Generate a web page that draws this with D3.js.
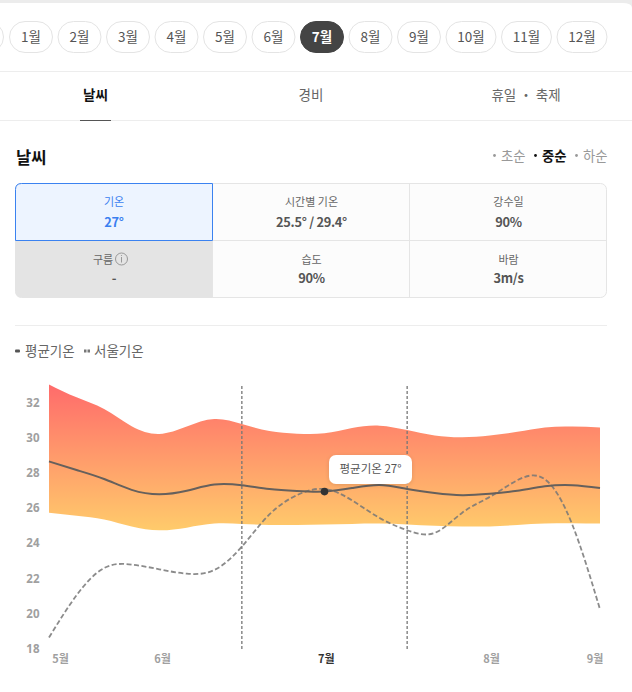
<!DOCTYPE html>
<html>
<head>
<meta charset="utf-8">
<script src="https://cdn.jsdelivr.net/npm/d3@7"></script>
<style>
html, body { margin: 0; padding: 0; background: #fff; }
svg { display: block; }
text { font-family: "Noto Sans CJK KR", "Noto Sans", sans-serif; }
</style>
</head>
<body>
<svg id="chart" width="632" height="692"></svg>
<script>
var months = ['1월', '2월', '3월', '4월', '5월', '6월', '7월', '8월', '9월', '10월', '11월', '12월'];
var activeMonth = '7월';
var tabs = ['날씨', '경비', '휴일 ・ 축제'];
var periods = ['초순', '중순', '하순'];
var activePeriod = '중순';
var cellLabels = ['기온', '시간별 기온', '강수일', '구름', '습도', '바람'];
var cellValues = ['27°', '25.5° / 29.4°', '90%', '-', '90%', '3m/s'];
var legendLabels = ['평균기온', '서울기온'];

var yTicks = [18, 20, 22, 24, 26, 28, 30, 32];
// half-month steps, 21 samples across the plot
var steps = d3.range(21);
var upper = [33.0, 32.27, 31.6, 30.62, 30.18, 30.6, 31.03, 30.75, 30.35, 30.2, 30.22, 30.52, 30.65, 30.4, 30.1, 30.0, 30.1, 30.3, 30.55, 30.6, 30.55];
var lower = [25.7, 25.53, 25.32, 24.92, 24.7, 24.85, 25.08, 25.06, 25.0, 25.0, 25.03, 25.06, 25.08, 25.03, 24.96, 24.92, 24.92, 25.0, 25.08, 25.1, 25.08];
var mean = [28.62, 28.13, 27.62, 27.0, 26.75, 26.95, 27.3, 27.26, 27.05, 26.93, 26.9, 27.1, 27.28, 27.05, 26.82, 26.7, 26.78, 26.95, 27.2, 27.26, 27.1];
var seoul = [18.6, 21.0, 22.55, 22.75, 22.48, 22.23, 22.44, 23.77, 25.6, 26.7, 27.05, 26.4, 25.4, 24.7, 24.55, 25.7, 26.6, 27.55, 27.6, 25.0, 20.2];
var monthTicks = [{label: '5월', step: 0.4}, {label: '6월', step: 4.1}, {label: '7월', step: 10.05}, {label: '8월', step: 16.05}, {label: '9월', step: 19.8}];
var guideSteps = [7, 13];
var currentStep = 10;
var currentValue = 27;

var svg = d3.select('#chart');

function drawPage() {
    svg.append('rect').attr('x', 0).attr('y', 0).attr('width', 632).attr('height', 692).attr('fill', '#fff');
    svg.append('rect').attr('x', 0).attr('y', 0).attr('width', 632).attr('height', 3).attr('fill', '#ececec');
    svg.append('path').attr('d', 'M632,3 V8 Q632,3 622,3 Z').attr('fill', '#ececec');
    [71.5, 120.5].forEach(function(y) {
        svg.append('line').attr('x1', 0).attr('x2', 632).attr('y1', y).attr('y2', y).attr('stroke', '#ededed');
    });
}

function drawMonths() {
    var x = 9;
    svg.append('rect').attr('x', -40).attr('y', 21.5).attr('width', 43.5).attr('height', 31).attr('rx', 15.5)
        .attr('fill', '#fff').attr('stroke', '#e4e4e4');
    months.forEach(function(m, i) {
        var w = m.length > 2 ? 50 : 43;
        var active = m === activeMonth;
        svg.append('rect').attr('x', x + 0.5).attr('y', 21.5).attr('width', w).attr('height', 31).attr('rx', 15.5)
            .attr('fill', active ? '#444' : '#fff').attr('stroke', active ? '#444' : '#e4e4e4');
        svg.append('text').attr('x', x + w / 2 + 0.5).attr('y', 42)
            .attr('text-anchor', 'middle').attr('font-size', 13.5)
            .attr('font-weight', active ? 700 : 400)
            .attr('fill', active ? '#fff' : '#555').text(m);
        x += w + 5.5;
    });
}

function drawTabs() {
    var centers = [95.5, 311, 526];
    tabs.forEach(function(t, i) {
        svg.append('text').attr('x', centers[i]).attr('y', 100).attr('text-anchor', 'middle')
            .attr('font-size', 13.5).attr('font-weight', i === 0 ? 700 : 400)
            .attr('fill', i === 0 ? '#111' : '#666').text(t);
    });
    svg.append('line').attr('x1', 80).attr('x2', 111).attr('y1', 120.5).attr('y2', 120.5).attr('stroke', '#555');
}

function drawHeading() {
    svg.append('text').attr('x', 16).attr('y', 164).attr('font-size', 16.5).attr('font-weight', 700)
        .attr('fill', '#111').text('날씨');
    var xs = [493, 534, 575];
    periods.forEach(function(p, i) {
        var active = p === activePeriod;
        var color = active ? '#111' : '#999';
        svg.append('circle').attr('cx', xs[i] + 1.5).attr('cy', 155.5).attr('r', 1.4).attr('fill', color);
        svg.append('text').attr('x', xs[i] + 8).attr('y', 160.5).attr('font-size', 13.3)
            .attr('font-weight', active ? 700 : 400).attr('fill', color).text(p);
    });
}

function drawTable() {
    var colX = [15, 213, 410, 607], rowY = [183, 240.5, 298];
    var g = svg.append('g');
    g.append('rect').attr('x', 15.5).attr('y', 183.5).attr('width', 591).attr('height', 114).attr('rx', 6)
        .attr('fill', '#fcfcfc').attr('stroke', '#e5e5e5');
    g.append('path').attr('d', 'M213,240.5 V297.5 H21.5 Q15.5,297.5 15.5,291.5 V240.5 Z').attr('fill', '#e4e4e4');
    g.append('line').attr('x1', 213).attr('x2', 607).attr('y1', 240.5).attr('y2', 240.5).attr('stroke', '#e5e5e5');
    g.append('line').attr('x1', 409.5).attr('x2', 409.5).attr('y1', 183).attr('y2', 298).attr('stroke', '#e5e5e5');
    g.append('line').attr('x1', 212.5).attr('x2', 212.5).attr('y1', 183).attr('y2', 298).attr('stroke', '#e5e5e5');
    g.append('path').attr('d', 'M21.5,183.5 H212.5 V240.5 H15.5 V189.5 Q15.5,183.5 21.5,183.5 Z')
        .attr('fill', '#edf4ff').attr('stroke', '#3b82f0');

    cellLabels.forEach(function(label, i) {
        var col = i % 3, row = Math.floor(i / 3);
        var cx = (colX[col] + colX[col + 1]) / 2;
        var blue = i === 0;
        var shift = label === '구름' ? -11 : 0;
        g.append('text').attr('x', cx + shift).attr('y', rowY[row] + 23).attr('text-anchor', 'middle')
            .attr('font-size', 11).attr('fill', blue ? '#3b7ff0' : '#666').text(label);
        g.append('text').attr('x', cx).attr('y', rowY[row] + (row === 0 ? 44 : 42.5)).attr('text-anchor', 'middle')
            .attr('font-size', 12.8).attr('font-weight', 700).attr('letter-spacing', -0.3)
            .attr('fill', blue ? '#3b7ff0' : '#555')
            .text(cellValues[i]);
        if (label === '구름') {
            g.append('circle').attr('cx', cx + 7.5).attr('cy', rowY[row] + 18.5).attr('r', 6)
                .attr('fill', 'none').attr('stroke', '#999');
            g.append('line').attr('x1', cx + 7.5).attr('x2', cx + 7.5).attr('y1', rowY[row] + 16.5).attr('y2', rowY[row] + 22)
                .attr('stroke', '#999');
            g.append('circle').attr('cx', cx + 7.5).attr('cy', rowY[row] + 15).attr('r', 0.6).attr('fill', '#999');
        }
    });
    svg.append('line').attr('x1', 15).attr('x2', 607).attr('y1', 325.5).attr('y2', 325.5).attr('stroke', '#ededed');
}

function drawLegend() {
    svg.append('rect').attr('x', 15).attr('y', 349.5).attr('width', 5).attr('height', 3).attr('rx', 1).attr('fill', '#555');
    svg.append('text').attr('x', 25).attr('y', 356).attr('font-size', 13.5).attr('fill', '#666').text(legendLabels[0]);
    svg.append('rect').attr('x', 84).attr('y', 349.5).attr('width', 2.5).attr('height', 3).attr('fill', '#777');
    svg.append('rect').attr('x', 87.5).attr('y', 349.5).attr('width', 2.5).attr('height', 3).attr('fill', '#777');
    svg.append('text').attr('x', 94).attr('y', 356).attr('font-size', 13.5).attr('fill', '#666').text(legendLabels[1]);
}

function drawChart() {
    var x = d3.scaleLinear().domain([0, 20]).range([49, 600]);
    var y = d3.scaleLinear().domain([18, 32]).range([648, 402]);

    var defs = svg.append('defs');
    var grad = defs.append('linearGradient').attr('id', 'band')
        .attr('gradientUnits', 'userSpaceOnUse')
        .attr('x1', 0).attr('x2', 0).attr('y1', y(33)).attr('y2', y(24.7));
    grad.append('stop').attr('offset', '0%').attr('stop-color', '#ff6b6b');
    grad.append('stop').attr('offset', '100%').attr('stop-color', '#ffcb6b');

    var area = d3.area()
        .x(function(i) { return x(i); })
        .y0(function(i) { return y(lower[i]); })
        .y1(function(i) { return y(upper[i]); })
        .curve(d3.curveNatural);
    svg.append('path').attr('d', area(steps)).attr('fill', 'url(#band)');

    var line = function(values) {
        return d3.line()
            .x(function(i) { return x(i); })
            .y(function(i) { return y(values[i]); })
            .curve(d3.curveNatural)(steps);
    };

    guideSteps.forEach(function(s) {
        svg.append('line').attr('x1', x(s)).attr('x2', x(s)).attr('y1', 386).attr('y2', 650)
            .attr('stroke', '#777').attr('stroke-width', 1.3).attr('stroke-dasharray', '3 2');
    });

    svg.append('path').attr('d', line(seoul)).attr('fill', 'none')
        .attr('stroke', '#777').attr('stroke-opacity', 0.85).attr('stroke-width', 1.8).attr('stroke-dasharray', '5 2.5');
    svg.append('path').attr('d', line(mean)).attr('fill', 'none')
        .attr('stroke', '#66605c').attr('stroke-width', 2);

    svg.append('circle').attr('cx', x(currentStep)).attr('cy', y(26.9)).attr('r', 3.8).attr('fill', '#333');

    // tooltip
    var shadow = defs.append('filter').attr('id', 'soft').attr('x', '-20%').attr('y', '-30%').attr('width', '140%').attr('height', '170%');
    shadow.append('feDropShadow').attr('dx', 0).attr('dy', 1).attr('stdDeviation', 2).attr('flood-color', '#000').attr('flood-opacity', 0.12);
    svg.append('rect').attr('x', 329).attr('y', 455).attr('width', 83).attr('height', 29).attr('rx', 7)
        .attr('fill', '#fff').attr('filter', 'url(#soft)');
    svg.append('text').attr('x', 370.5).attr('y', 473).attr('text-anchor', 'middle')
        .attr('font-size', 11.5).attr('fill', '#555').text('평균기온 ' + currentValue + '°');

    // axes
    var yAxis = d3.axisLeft(y).tickValues(yTicks).tickSize(0).tickPadding(0);
    var yG = svg.append('g').attr('transform', 'translate(39.5,0.7)').call(yAxis);
    yG.select('.domain').remove();
    yG.selectAll('text').attr('font-size', 11.5).attr('font-weight', 700).attr('fill', '#a0a0a0')
        .style('font-family', '"Noto Sans", sans-serif');

    var xAxis = d3.axisBottom(x)
        .tickValues(monthTicks.map(function(d) { return d.step; }))
        .tickFormat(function(s) { return monthTicks.find(function(d) { return d.step === s; }).label; })
        .tickSize(0).tickPadding(0);
    var xG = svg.append('g').attr('transform', 'translate(0,655)').call(xAxis);
    xG.select('.domain').remove();
    xG.selectAll('text').attr('font-size', 11).attr('font-weight', 700)
        .attr('fill', function(s) { return s === 10.05 ? '#333' : '#a0a0a0'; });
}

drawPage();
drawMonths();
drawTabs();
drawHeading();
drawTable();
drawLegend();
drawChart();
</script>
</body>
</html>
